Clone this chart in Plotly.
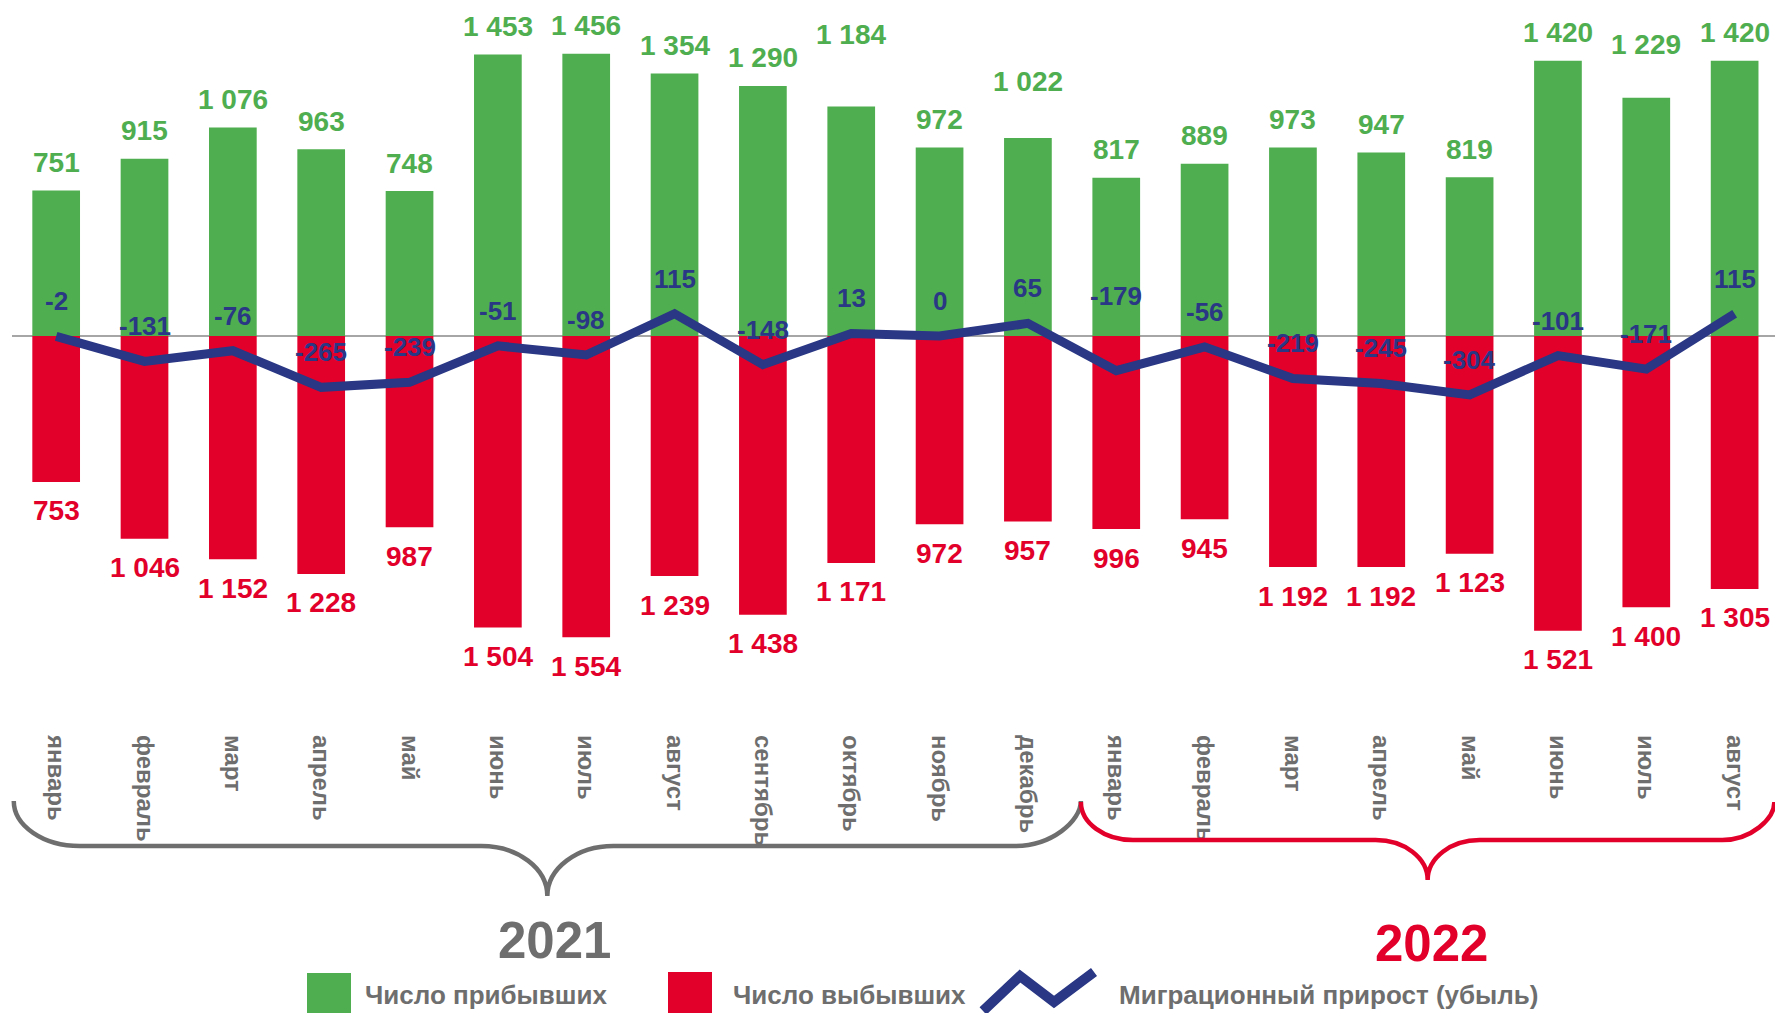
import plotly.graph_objects as go

# ---------------- data ----------------
months = ["январь", "февраль", "март", "апрель", "май", "июнь", "июль", "август",
          "сентябрь", "октябрь", "ноябрь", "декабрь",
          "январь", "февраль", "март", "апрель", "май", "июнь", "июль", "август"]
arrived = [751, 915, 1076, 963, 748, 1453, 1456, 1354, 1290, 1184, 972, 1022,
           817, 889, 973, 947, 819, 1420, 1229, 1420]
departed = [753, 1046, 1152, 1228, 987, 1504, 1554, 1239, 1438, 1171, 972, 957,
            996, 945, 1192, 1192, 1123, 1521, 1400, 1305]
net = [-2, -131, -76, -265, -239, -51, -98, 115, -148, 13, 0, 65,
       -179, -56, -219, -245, -304, -101, -171, 115]
years = ["2021", "2022"]
legend_names = ["Число прибывших", "Число выбывших", "Миграционный прирост (убыль)"]

# ---------------- style ----------------
GREEN = "#4FAE4F"
RED = "#E2002B"
NAVY = "#293784"
GRAY = "#6E6E6E"
FONT = "Liberation Sans, Arial, sans-serif"

W, H = 1775, 1013
ML, MR, MT, MB = 12, 0, 0, 285
PW, PH = W - ML - MR, H - MT - MB
X0, X1 = -0.5, 19.457
Y0, Y1 = -2022.7, 1733.7

# label lifts (pixels) – a few labels were moved by hand in the original
green_lift = [28] * len(arrived)
green_lift[9], green_lift[11], green_lift[18] = 72, 56, 53
red_drop = [29] * len(departed)
net_lift = [35] * len(net)
net_lift[12] = 75


def fmt(v):
    return f"{v:,}".replace(",", " ")


def px_x(px):
    return (px - ML) / PW


def px_y(py):
    return (MT + PH - py) / PH


def cat_x(c):
    return (c - X0) / (X1 - X0)


x = list(range(len(months)))

fig = go.Figure()
fig.add_bar(x=x, y=arrived, width=0.54, marker=dict(color=GREEN, line=dict(width=0)),
            name=legend_names[0])
fig.add_bar(x=x, y=[-v for v in departed], width=0.54,
            marker=dict(color=RED, line=dict(width=0)), name=legend_names[1])
fig.add_scatter(x=x, y=net, mode="lines", line=dict(color=NAVY, width=9),
                name=legend_names[2])

ann = []
for i, v in enumerate(arrived):
    ann.append(dict(x=i, y=v, xref="x", yref="y", text=fmt(v), showarrow=False,
                    yshift=green_lift[i], yanchor="middle",
                    font=dict(family=FONT, size=28, color=GREEN, weight="bold")))
for i, v in enumerate(departed):
    ann.append(dict(x=i, y=-v, xref="x", yref="y", text=fmt(v), showarrow=False,
                    yshift=-red_drop[i], yanchor="middle",
                    font=dict(family=FONT, size=28, color=RED, weight="bold")))
for i, v in enumerate(net):
    ann.append(dict(x=i, y=v, xref="x", yref="y", text=str(v), showarrow=False,
                    yshift=net_lift[i], yanchor="middle",
                    font=dict(family=FONT, size=26, color=NAVY, weight="bold")))

# year labels
ann.append(dict(x=px_x(554), y=px_y(940), xref="paper", yref="paper", text=years[0],
                showarrow=False, xanchor="center", yanchor="middle",
                font=dict(family=FONT, size=51, color=GRAY, weight="bold")))
ann.append(dict(x=px_x(1431), y=px_y(943), xref="paper", yref="paper", text=years[1],
                showarrow=False, xanchor="center", yanchor="middle",
                font=dict(family=FONT, size=51, color=RED, weight="bold")))

# legend texts
for name, lx in zip(legend_names, [363, 731, 1117]):
    ann.append(dict(x=px_x(lx), y=px_y(995), xref="paper", yref="paper", text=name,
                    showarrow=False, xanchor="left", yanchor="middle",
                    font=dict(family=FONT, size=26, color=GRAY, weight="bold")))


def brace(ca, cb, ytop, yh, ytip, r_px, color):
    xa, xb = ML + cat_x(ca) * PW, ML + cat_x(cb) * PW
    xm = (xa + xb) / 2
    k = 0.552
    d1, d2 = yh - ytop, ytip - yh
    pts = [
        ("M", [(xa, ytop)]),
        ("C", [(xa, ytop + k * d1), (xa + r_px * (1 - k), yh), (xa + r_px, yh)]),
        ("L", [(xm - r_px, yh)]),
        ("C", [(xm - r_px * (1 - k), yh), (xm, ytip - k * d2), (xm, ytip)]),
        ("C", [(xm, ytip - k * d2), (xm + r_px * (1 - k), yh), (xm + r_px, yh)]),
        ("L", [(xb - r_px, yh)]),
        ("C", [(xb - r_px * (1 - k), yh), (xb, yh - k * d1), (xb, ytop)]),
    ]
    s = ""
    for cmd, pp in pts:
        s += cmd + " " + " ".join(f"{px_x(a):.5f},{px_y(b):.5f}" for a, b in pp) + " "
    return dict(type="path", path=s.strip(), xref="paper", yref="paper",
                line=dict(color=color, width=4.5), fillcolor="rgba(0,0,0,0)")


shapes = [
    brace(-0.48, 11.6, 801, 846, 896, 66, GRAY),
    brace(11.6, 19.45, 802, 840, 880, 52, RED),
    # legend swatches
    dict(type="rect", xref="paper", yref="paper", x0=px_x(307), x1=px_x(351),
         y0=px_y(1013), y1=px_y(973), fillcolor=GREEN, line=dict(width=0)),
    dict(type="rect", xref="paper", yref="paper", x0=px_x(668), x1=px_x(712),
         y0=px_y(1013), y1=px_y(972), fillcolor=RED, line=dict(width=0)),
]
zz = [(983, 1011), (1020, 976), (1054, 1002), (1094, 972)]
zpath = "M " + " L ".join(f"{px_x(a):.5f},{px_y(b):.5f}" for a, b in zz)
shapes.append(dict(type="path", path=zpath, xref="paper", yref="paper",
                   line=dict(color=NAVY, width=10)))

fig.update_layout(
    width=W, height=H,
    margin=dict(l=ML, r=MR, t=MT, b=MB, autoexpand=False),
    paper_bgcolor="white", plot_bgcolor="white",
    barmode="relative", showlegend=False,
    annotations=ann, shapes=shapes,
    font=dict(family=FONT),
    xaxis=dict(range=[X0, X1], tickmode="array", tickvals=x, ticktext=months,
               tickangle=90, ticks="", showgrid=False, zeroline=False, showline=False,
               automargin=False, ticklabelstandoff=6,
               tickfont=dict(family=FONT, size=24, color=GRAY, weight="bold")),
    yaxis=dict(range=[Y0, Y1], showticklabels=False, showgrid=False, ticks="",
               zeroline=True, zerolinecolor="#A6A6A6", zerolinewidth=1.5,
               showline=False, automargin=False),
)

fig.write_html("out.html", config={"displayModeBar": False},
               post_script="document.body.style.margin='0';document.body.style.overflow='hidden';")
